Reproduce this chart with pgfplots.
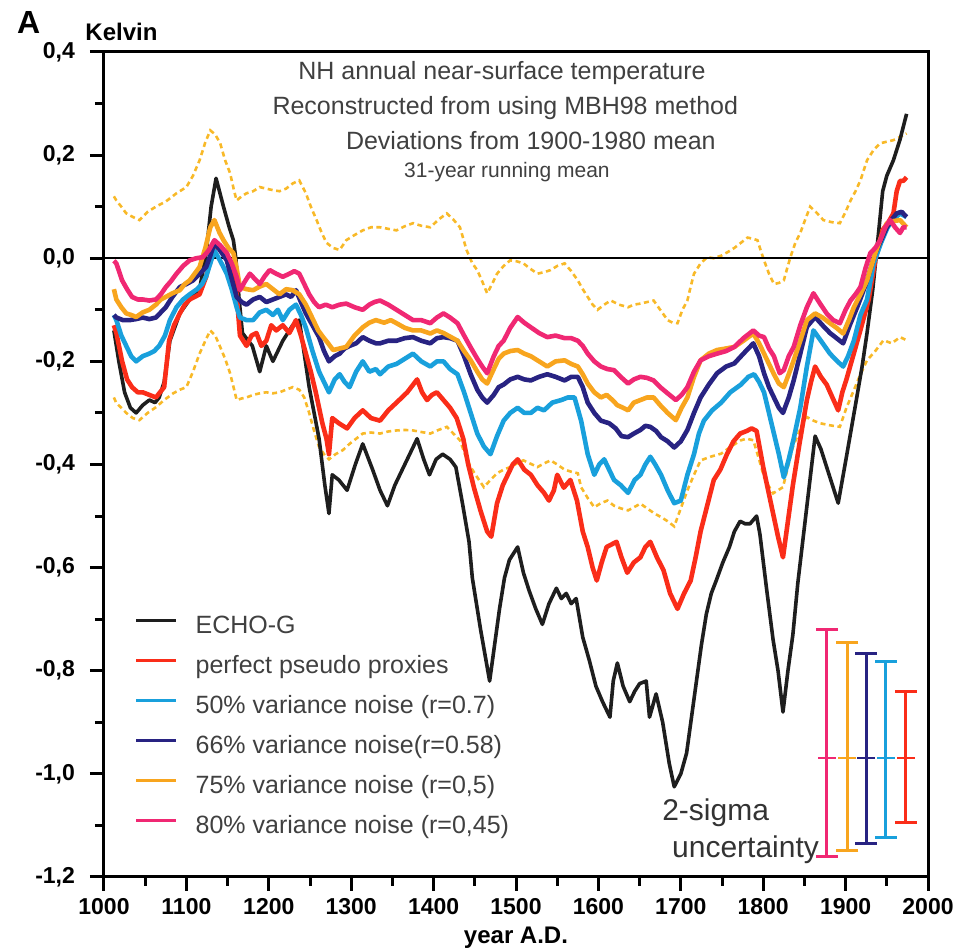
\documentclass[border=0pt]{standalone}
\usepackage{pgfplots}
\pgfplotsset{compat=1.18}
\usepackage{fontspec}
\setmainfont{Liberation Sans}

\definecolor{echo}{RGB}{30,30,30}
\definecolor{redc}{RGB}{250,45,25}
\definecolor{lblue}{RGB}{25,160,220}
\definecolor{dblue}{RGB}{40,35,130}
\definecolor{orng}{RGB}{248,165,30}
\definecolor{pinkc}{RGB}{240,40,115}
\definecolor{dotc}{RGB}{248,185,40}

\begin{document}
\begin{tikzpicture}
\useasboundingbox (-52pt,-37pt) rectangle (429pt,438.5pt);
\begin{axis}[
    scale only axis,
    width=412pt, height=412.5pt,
    xmin=1000, xmax=2000, ymin=-1.2, ymax=0.4,
    xtick={1000,1100,...,2000},
    ytick={-1.2,-1.0,...,0.4},
    minor x tick num=1, minor y tick num=1,
    tick pos=left, tick align=outside,
    major tick length=7pt, minor tick length=4.5pt,
    every tick/.style={black, line width=1.5pt},
    axis line style={line width=1.5pt},
    clip=false,
    /pgf/number format/assume math mode=true,
    ticklabel style={font=\bfseries\fontsize{11.5}{12}\selectfont},
    xticklabel style={/pgf/number format/1000 sep={}},
    yticklabel style={/pgf/number format/.cd, use comma, fixed, fixed zerofill, precision=1, /tikz/.cd, xshift=-4pt},
    legend style={draw=none, fill=none, at={(0.037,0.318)}, anchor=north west,
        inner sep=0pt, row sep=8.5pt,
        font=\fontsize{12.5}{13}\selectfont, text=black!75,
        nodes={inner sep=0pt, text height=9pt, text depth=2.5pt},
        /tikz/every odd column/.append style={column sep=9pt}},
    legend cell align=left,
    legend image code/.code={\draw[#1, line width=1.4pt] (0pt,3pt) -- (20pt,3pt);},
]
% 2-sigma range of the pseudo reconstructions (dotted)
\addplot[dotc, line width=1.3pt, dash pattern=on 2.5pt off 1.8pt, forget plot] coordinates {
(1012,0.12) (1015,0.112) (1021,0.10) (1027,0.087) (1035,0.08) (1043,0.074) (1053,0.09) (1063,0.10)
(1075,0.11) (1088,0.126) (1100,0.138) (1108,0.16) (1116,0.19) (1123,0.225) (1129,0.248) (1135,0.24)
(1141,0.223) (1147,0.19) (1153,0.165) (1158,0.13) (1161,0.112) (1167,0.12) (1173,0.126) (1181,0.13)
(1189,0.138) (1197,0.135) (1205,0.132) (1213,0.13) (1221,0.135) (1229,0.145) (1237,0.151) (1245,0.126)
(1251,0.10) (1258,0.074) (1264,0.05) (1270,0.03) (1278,0.02) (1286,0.016) (1294,0.035) (1304,0.045)
(1314,0.054) (1324,0.06) (1335,0.06) (1345,0.057) (1355,0.054) (1365,0.062) (1375,0.068) (1385,0.063)
(1396,0.06) (1406,0.075) (1416,0.087) (1424,0.075) (1432,0.06) (1440,0.016) (1447,-0.01) (1453,-0.023)
(1459,-0.045) (1465,-0.068) (1471,-0.05) (1477,-0.03) (1485,-0.015) (1493,-0.004) (1501,-0.006) (1509,-0.01)
(1517,-0.02) (1526,-0.03) (1534,-0.027) (1542,-0.023) (1550,-0.015) (1559,-0.01) (1567,-0.025) (1575,-0.043)
(1581,-0.06) (1587,-0.075) (1593,-0.09) (1599,-0.10) (1607,-0.09) (1615,-0.082) (1625,-0.09) (1636,-0.095)
(1643,-0.09) (1651,-0.088) (1659,-0.085) (1667,-0.082) (1675,-0.10) (1684,-0.12) (1690,-0.125) (1696,-0.126)
(1702,-0.10) (1708,-0.082) (1712,-0.055) (1716,-0.03) (1724,-0.01) (1732,0.002) (1740,0.0) (1749,0.005)
(1757,0.012) (1765,0.02) (1773,0.03) (1781,0.04) (1787,0.038) (1793,0.035) (1797,0.015) (1801,-0.004)
(1807,-0.03) (1813,-0.05) (1819,-0.048) (1825,-0.043) (1829,-0.02) (1833,0.002) (1839,0.03) (1845,0.049)
(1851,0.075) (1857,0.10) (1865,0.088) (1873,0.074) (1883,0.07) (1893,0.068) (1900,0.09) (1906,0.112)
(1912,0.13) (1918,0.151) (1926,0.19) (1934,0.21) (1942,0.223) (1950,0.226) (1958,0.229) (1966,0.235) (1974,0.242)};
\addplot[dotc, line width=1.3pt, dash pattern=on 2.5pt off 1.8pt, forget plot] coordinates {
(1012,-0.27) (1015,-0.281) (1021,-0.29) (1027,-0.30) (1035,-0.31) (1043,-0.314) (1053,-0.30) (1063,-0.289)
(1073,-0.275) (1084,-0.262) (1092,-0.255) (1100,-0.25) (1108,-0.22) (1116,-0.185) (1123,-0.16) (1129,-0.14)
(1135,-0.15) (1141,-0.172) (1147,-0.195) (1153,-0.223) (1158,-0.255) (1161,-0.275) (1167,-0.272) (1173,-0.27)
(1181,-0.265) (1189,-0.262) (1197,-0.26) (1205,-0.262) (1213,-0.26) (1221,-0.255) (1229,-0.25) (1237,-0.255)
(1243,-0.27) (1249,-0.30) (1255,-0.335) (1261,-0.366) (1267,-0.38) (1273,-0.39) (1281,-0.38) (1290,-0.372)
(1298,-0.36) (1306,-0.35) (1314,-0.34) (1324,-0.338) (1335,-0.34) (1345,-0.336) (1355,-0.334) (1365,-0.333)
(1375,-0.334) (1385,-0.337) (1396,-0.34) (1406,-0.333) (1416,-0.327) (1424,-0.34) (1432,-0.353) (1438,-0.38)
(1445,-0.405) (1453,-0.425) (1461,-0.444) (1469,-0.43) (1477,-0.417) (1485,-0.41) (1493,-0.405) (1501,-0.398)
(1509,-0.392) (1517,-0.398) (1526,-0.405) (1534,-0.398) (1542,-0.392) (1550,-0.40) (1559,-0.41) (1567,-0.414)
(1575,-0.417) (1579,-0.444) (1587,-0.465) (1595,-0.483) (1603,-0.475) (1611,-0.47) (1619,-0.48) (1627,-0.485)
(1636,-0.489) (1643,-0.483) (1651,-0.476) (1659,-0.485) (1668,-0.495) (1676,-0.502) (1684,-0.51) (1692,-0.52)
(1700,-0.485) (1708,-0.45) (1716,-0.42) (1724,-0.392) (1736,-0.385) (1749,-0.379) (1761,-0.365) (1773,-0.353)
(1780,-0.35) (1788,-0.353) (1795,-0.39) (1801,-0.424) (1806,-0.44) (1812,-0.456) (1818,-0.45) (1824,-0.444)
(1830,-0.405) (1836,-0.366) (1844,-0.335) (1853,-0.308) (1861,-0.315) (1869,-0.32) (1881,-0.324) (1893,-0.327)
(1901,-0.29) (1910,-0.256) (1918,-0.225) (1926,-0.198) (1936,-0.18) (1946,-0.159) (1956,-0.165) (1966,-0.153) (1974,-0.159)};
% zero line
\addplot[black, line width=1.2pt, forget plot] coordinates {(1000,0) (2000,0)};
% ECHO-G
\addplot[echo, line width=1.8pt, line join=round] coordinates {
(1012,-0.14) (1018,-0.20) (1025,-0.26) (1032,-0.29) (1039,-0.30) (1047,-0.285) (1055,-0.275) (1062,-0.28)
(1067,-0.27) (1073,-0.24) (1080,-0.16) (1092,-0.107) (1104,-0.08) (1116,-0.06) (1124,0.01) (1130,0.10)
(1136,0.155) (1145,0.10) (1152,0.06) (1157,0.035) (1160,0.00) (1164,-0.08) (1168,-0.145) (1175,-0.16)
(1180,-0.17) (1189,-0.22) (1197,-0.17) (1205,-0.20) (1217,-0.16) (1229,-0.13) (1237,-0.12) (1249,-0.25)
(1261,-0.35) (1268,-0.44) (1273,-0.495) (1277,-0.42) (1285,-0.43) (1295,-0.45) (1305,-0.40) (1314,-0.36)
(1326,-0.41) (1335,-0.45) (1344,-0.48) (1353,-0.44) (1362,-0.41) (1371,-0.38) (1380,-0.35) (1388,-0.39)
(1395,-0.42) (1403,-0.39) (1411,-0.38) (1420,-0.39) (1427,-0.405) (1435,-0.475) (1443,-0.55) (1447,-0.62)
(1457,-0.72) (1468,-0.82) (1474,-0.75) (1480,-0.68) (1486,-0.62) (1492,-0.585) (1502,-0.56) (1509,-0.61)
(1516,-0.645) (1524,-0.68) (1532,-0.71) (1540,-0.67) (1549,-0.64) (1555,-0.66) (1561,-0.65) (1567,-0.67)
(1573,-0.66) (1581,-0.735) (1589,-0.78) (1597,-0.83) (1605,-0.86) (1614,-0.89) (1618,-0.82) (1623,-0.785)
(1630,-0.83) (1638,-0.86) (1644,-0.84) (1650,-0.825) (1658,-0.82) (1662,-0.89) (1670,-0.845) (1678,-0.90)
(1686,-0.98) (1692,-1.025) (1700,-1.00) (1707,-0.96) (1713,-0.89) (1719,-0.82) (1725,-0.75) (1731,-0.69)
(1737,-0.65) (1743,-0.625) (1751,-0.59) (1759,-0.56) (1765,-0.53) (1772,-0.51) (1778,-0.515) (1784,-0.515)
(1792,-0.50) (1796,-0.535) (1804,-0.64) (1812,-0.74) (1818,-0.80) (1824,-0.88) (1830,-0.80) (1836,-0.73)
(1842,-0.63) (1849,-0.535) (1856,-0.44) (1863,-0.345) (1870,-0.37) (1877,-0.405) (1884,-0.44) (1891,-0.475)
(1896,-0.43) (1901,-0.385) (1907,-0.33) (1913,-0.275) (1920,-0.21) (1926,-0.145) (1933,-0.06) (1940,0.05)
(1945,0.13) (1950,0.16) (1958,0.19) (1966,0.23) (1974,0.28)};
\addlegendentry{ECHO-G}
% perfect pseudo proxies
\addplot[redc, line width=2.3pt, line join=round] coordinates {
(1012,-0.13) (1015,-0.145) (1022,-0.20) (1028,-0.235) (1034,-0.25) (1041,-0.26) (1047,-0.26) (1055,-0.265)
(1063,-0.27) (1068,-0.26) (1073,-0.25) (1079,-0.16) (1085,-0.13) (1092,-0.107) (1098,-0.09) (1104,-0.08)
(1110,-0.075) (1116,-0.07) (1124,-0.036) (1129,0.0) (1134,0.02) (1141,0.02) (1149,0.01) (1155,-0.03)
(1161,-0.07) (1165,-0.15) (1173,-0.17) (1179,-0.15) (1185,-0.145) (1191,-0.17) (1197,-0.16) (1203,-0.13)
(1209,-0.14) (1217,-0.13) (1225,-0.145) (1233,-0.12) (1239,-0.15) (1245,-0.185) (1251,-0.22) (1257,-0.26)
(1265,-0.32) (1270,-0.35) (1273,-0.38) (1277,-0.31) (1285,-0.32) (1295,-0.33) (1304,-0.31) (1314,-0.295)
(1324,-0.31) (1335,-0.315) (1345,-0.295) (1355,-0.28) (1368,-0.26) (1380,-0.235) (1386,-0.26) (1392,-0.275)
(1398,-0.265) (1404,-0.26) (1412,-0.275) (1420,-0.29) (1428,-0.31) (1436,-0.35) (1442,-0.40) (1449,-0.445)
(1457,-0.49) (1465,-0.53) (1470,-0.54) (1477,-0.475) (1484,-0.44) (1490,-0.42) (1496,-0.40) (1502,-0.39)
(1510,-0.41) (1518,-0.42) (1526,-0.44) (1534,-0.455) (1540,-0.47) (1546,-0.45) (1550,-0.42) (1558,-0.445)
(1566,-0.43) (1574,-0.47) (1581,-0.53) (1587,-0.56) (1593,-0.60) (1598,-0.625) (1604,-0.59) (1610,-0.56)
(1616,-0.555) (1622,-0.55) (1628,-0.58) (1635,-0.61) (1643,-0.59) (1651,-0.58) (1657,-0.56) (1663,-0.55)
(1671,-0.58) (1679,-0.605) (1687,-0.65) (1696,-0.68) (1704,-0.65) (1712,-0.625) (1718,-0.58) (1724,-0.53)
(1732,-0.48) (1740,-0.43) (1748,-0.41) (1756,-0.38) (1764,-0.355) (1772,-0.34) (1780,-0.335) (1786,-0.33)
(1792,-0.335) (1800,-0.405) (1806,-0.45) (1812,-0.495) (1818,-0.54) (1824,-0.58) (1830,-0.51) (1836,-0.44)
(1844,-0.36) (1853,-0.275) (1858,-0.24) (1863,-0.21) (1870,-0.23) (1877,-0.245) (1884,-0.27) (1891,-0.295)
(1896,-0.26) (1901,-0.235) (1909,-0.19) (1917,-0.145) (1923,-0.11) (1928,-0.08) (1936,-0.004) (1945,0.055)
(1952,0.07) (1958,0.087) (1962,0.13) (1966,0.15) (1970,0.15) (1974,0.157)};
\addlegendentry{perfect pseudo proxies}
% 50% variance noise
\addplot[lblue, line width=2.3pt, line join=round] coordinates {
(1012,-0.11) (1015,-0.12) (1021,-0.15) (1027,-0.17) (1033,-0.19) (1039,-0.20) (1047,-0.19) (1055,-0.185)
(1061,-0.18) (1067,-0.17) (1074,-0.15) (1080,-0.12) (1088,-0.095) (1096,-0.08) (1104,-0.07) (1113,-0.06)
(1119,-0.05) (1124,-0.035) (1129,-0.01) (1134,0.015) (1141,-0.005) (1149,-0.03) (1155,-0.06) (1161,-0.095)
(1165,-0.115) (1173,-0.12) (1181,-0.12) (1189,-0.105) (1197,-0.10) (1205,-0.11) (1211,-0.10) (1217,-0.12)
(1225,-0.10) (1233,-0.09) (1239,-0.11) (1245,-0.135) (1253,-0.18) (1261,-0.22) (1267,-0.24) (1273,-0.26)
(1280,-0.235) (1286,-0.225) (1292,-0.24) (1298,-0.25) (1306,-0.22) (1314,-0.20) (1322,-0.22) (1330,-0.215)
(1335,-0.225) (1345,-0.21) (1355,-0.205) (1365,-0.195) (1375,-0.185) (1385,-0.20) (1396,-0.21) (1404,-0.20)
(1412,-0.20) (1420,-0.215) (1429,-0.225) (1437,-0.26) (1445,-0.30) (1453,-0.34) (1461,-0.365) (1469,-0.38)
(1477,-0.345) (1485,-0.315) (1493,-0.30) (1502,-0.29) (1510,-0.30) (1518,-0.30) (1526,-0.29) (1534,-0.295)
(1544,-0.28) (1555,-0.275) (1563,-0.27) (1571,-0.27) (1579,-0.315) (1587,-0.38) (1595,-0.42) (1601,-0.40)
(1607,-0.39) (1613,-0.41) (1619,-0.43) (1627,-0.44) (1636,-0.455) (1644,-0.43) (1651,-0.42) (1657,-0.40)
(1663,-0.385) (1669,-0.40) (1676,-0.42) (1684,-0.45) (1692,-0.475) (1700,-0.47) (1708,-0.42) (1716,-0.38)
(1722,-0.34) (1728,-0.315) (1738,-0.295) (1749,-0.28) (1760,-0.26) (1773,-0.245) (1782,-0.23) (1789,-0.225)
(1795,-0.24) (1801,-0.26) (1807,-0.30) (1813,-0.34) (1819,-0.38) (1825,-0.425) (1831,-0.39) (1837,-0.35)
(1845,-0.29) (1853,-0.21) (1861,-0.14) (1870,-0.16) (1881,-0.185) (1890,-0.20) (1897,-0.21) (1903,-0.19)
(1910,-0.16) (1918,-0.11) (1926,-0.08) (1934,-0.01) (1943,0.03) (1951,0.06) (1958,0.075) (1966,0.087) (1974,0.08)};
\addlegendentry{50\% variance noise (r=0.7)}
% 66% variance noise
\addplot[dblue, line width=2.3pt, line join=round] coordinates {
(1012,-0.11) (1015,-0.115) (1023,-0.12) (1031,-0.12) (1039,-0.118) (1047,-0.115) (1055,-0.118) (1063,-0.115)
(1069,-0.105) (1075,-0.095) (1083,-0.075) (1092,-0.056) (1100,-0.05) (1108,-0.043) (1116,-0.03) (1124,-0.017)
(1129,0.005) (1134,0.03) (1141,0.015) (1149,-0.004) (1155,-0.04) (1161,-0.075) (1167,-0.085) (1173,-0.09)
(1181,-0.08) (1189,-0.075) (1197,-0.085) (1205,-0.08) (1213,-0.075) (1221,-0.07) (1227,-0.075) (1233,-0.062)
(1239,-0.085) (1245,-0.107) (1253,-0.13) (1261,-0.153) (1267,-0.18) (1273,-0.20) (1280,-0.19) (1286,-0.185)
(1292,-0.175) (1298,-0.17) (1306,-0.165) (1314,-0.153) (1322,-0.16) (1330,-0.165) (1335,-0.165) (1345,-0.16)
(1355,-0.16) (1365,-0.155) (1375,-0.153) (1385,-0.16) (1396,-0.165) (1404,-0.155) (1412,-0.153) (1420,-0.155)
(1429,-0.16) (1437,-0.19) (1445,-0.225) (1453,-0.255) (1459,-0.27) (1465,-0.28) (1473,-0.265) (1479,-0.25)
(1485,-0.245) (1493,-0.235) (1502,-0.23) (1510,-0.235) (1518,-0.237) (1528,-0.23) (1538,-0.225) (1548,-0.23)
(1559,-0.237) (1567,-0.23) (1575,-0.23) (1581,-0.25) (1587,-0.28) (1595,-0.30) (1603,-0.315) (1613,-0.32)
(1621,-0.33) (1628,-0.345) (1636,-0.347) (1643,-0.34) (1651,-0.333) (1657,-0.325) (1663,-0.327) (1670,-0.335)
(1676,-0.347) (1684,-0.355) (1692,-0.367) (1700,-0.355) (1708,-0.333) (1716,-0.30) (1724,-0.27) (1734,-0.245)
(1744,-0.223) (1755,-0.21) (1765,-0.204) (1776,-0.185) (1788,-0.165) (1795,-0.19) (1801,-0.223) (1807,-0.25)
(1813,-0.27) (1819,-0.29) (1824,-0.30) (1831,-0.27) (1837,-0.237) (1845,-0.185) (1853,-0.133) (1863,-0.114)
(1872,-0.13) (1881,-0.145) (1889,-0.155) (1897,-0.165) (1905,-0.13) (1914,-0.095) (1920,-0.07) (1926,-0.043)
(1936,0.01) (1943,0.035) (1950,0.06) (1956,0.075) (1962,0.087) (1968,0.09) (1974,0.08)};
\addlegendentry{66\% variance noise(r=0.58)}
% 75% variance noise
\addplot[orng, line width=2.3pt, line join=round] coordinates {
(1012,-0.06) (1015,-0.08) (1021,-0.095) (1027,-0.107) (1033,-0.11) (1039,-0.114) (1047,-0.105) (1055,-0.10)
(1063,-0.09) (1069,-0.08) (1075,-0.075) (1083,-0.068) (1092,-0.062) (1098,-0.05) (1104,-0.043) (1110,-0.03)
(1116,-0.017) (1123,0.02) (1129,0.06) (1134,0.074) (1140,0.05) (1145,0.035) (1151,0.02) (1157,0.01)
(1161,-0.02) (1165,-0.056) (1173,-0.06) (1181,-0.062) (1189,-0.055) (1197,-0.05) (1205,-0.06) (1213,-0.07)
(1221,-0.06) (1229,-0.062) (1237,-0.07) (1245,-0.09) (1254,-0.12) (1260,-0.14) (1266,-0.153) (1272,-0.165)
(1278,-0.178) (1286,-0.175) (1294,-0.172) (1304,-0.15) (1314,-0.134) (1322,-0.125) (1330,-0.12) (1340,-0.125)
(1348,-0.12) (1355,-0.126) (1365,-0.135) (1375,-0.14) (1385,-0.14) (1396,-0.146) (1404,-0.14) (1412,-0.145)
(1420,-0.152) (1429,-0.16) (1437,-0.18) (1445,-0.198) (1453,-0.22) (1459,-0.235) (1465,-0.243) (1473,-0.215)
(1479,-0.195) (1485,-0.185) (1493,-0.18) (1502,-0.178) (1510,-0.185) (1518,-0.19) (1528,-0.20) (1538,-0.21)
(1548,-0.20) (1559,-0.198) (1567,-0.205) (1575,-0.21) (1581,-0.225) (1587,-0.243) (1595,-0.26) (1603,-0.27)
(1610,-0.265) (1617,-0.275) (1623,-0.285) (1630,-0.29) (1636,-0.295) (1643,-0.28) (1651,-0.275) (1659,-0.27)
(1667,-0.27) (1675,-0.285) (1684,-0.30) (1694,-0.314) (1701,-0.29) (1708,-0.27) (1716,-0.23) (1724,-0.198)
(1734,-0.185) (1744,-0.178) (1755,-0.175) (1765,-0.172) (1776,-0.16) (1788,-0.146) (1795,-0.165) (1801,-0.185)
(1807,-0.205) (1813,-0.225) (1819,-0.243) (1825,-0.25) (1831,-0.225) (1837,-0.198) (1845,-0.16) (1853,-0.12)
(1863,-0.107) (1872,-0.115) (1881,-0.126) (1889,-0.135) (1897,-0.146) (1904,-0.12) (1910,-0.095) (1918,-0.07)
(1926,-0.043) (1936,0.01) (1943,0.04) (1950,0.068) (1958,0.072) (1966,0.074) (1974,0.06)};
\addlegendentry{75\% variance noise (r=0,5)}
% 80% variance noise
\addplot[pinkc, line width=2.3pt, line join=round] coordinates {
(1012,-0.005) (1015,-0.01) (1022,-0.043) (1028,-0.06) (1034,-0.075) (1041,-0.08) (1047,-0.08) (1055,-0.082)
(1063,-0.08) (1069,-0.07) (1075,-0.056) (1081,-0.045) (1088,-0.03) (1096,-0.015) (1104,-0.004) (1112,0.0)
(1120,0.002) (1127,0.015) (1134,0.035) (1141,0.025) (1149,0.01) (1155,-0.01) (1161,-0.036) (1165,-0.062)
(1171,-0.045) (1177,-0.03) (1183,-0.04) (1189,-0.05) (1195,-0.035) (1201,-0.023) (1209,-0.03) (1217,-0.036)
(1225,-0.03) (1231,-0.025) (1237,-0.03) (1243,-0.05) (1249,-0.07) (1255,-0.085) (1261,-0.095) (1269,-0.09)
(1277,-0.095) (1286,-0.09) (1294,-0.088) (1304,-0.095) (1314,-0.10) (1322,-0.09) (1328,-0.085) (1335,-0.082)
(1345,-0.09) (1355,-0.10) (1365,-0.11) (1375,-0.12) (1385,-0.12) (1396,-0.126) (1404,-0.115) (1412,-0.107)
(1420,-0.115) (1429,-0.126) (1437,-0.15) (1445,-0.173) (1453,-0.195) (1459,-0.21) (1465,-0.223) (1473,-0.19)
(1479,-0.17) (1485,-0.16) (1493,-0.135) (1502,-0.114) (1510,-0.125) (1518,-0.134) (1528,-0.145) (1538,-0.153)
(1548,-0.15) (1559,-0.155) (1567,-0.155) (1575,-0.16) (1581,-0.17) (1587,-0.185) (1595,-0.20) (1603,-0.21)
(1611,-0.215) (1619,-0.217) (1627,-0.23) (1636,-0.243) (1643,-0.235) (1651,-0.23) (1659,-0.232) (1667,-0.237)
(1675,-0.25) (1684,-0.262) (1694,-0.275) (1701,-0.265) (1708,-0.25) (1716,-0.22) (1724,-0.198) (1734,-0.19)
(1744,-0.185) (1755,-0.18) (1765,-0.172) (1776,-0.155) (1788,-0.14) (1795,-0.15) (1801,-0.153) (1807,-0.175)
(1813,-0.19) (1820,-0.223) (1825,-0.217) (1831,-0.19) (1837,-0.172) (1845,-0.13) (1853,-0.095) (1861,-0.068)
(1869,-0.088) (1877,-0.107) (1885,-0.12) (1893,-0.126) (1900,-0.10) (1906,-0.082) (1912,-0.07) (1918,-0.056)
(1924,-0.02) (1930,0.01) (1936,0.02) (1942,0.035) (1948,0.06) (1954,0.074) (1960,0.06) (1966,0.049) (1970,0.06) (1974,0.06)};
\addlegendentry{80\% variance noise (r=0,45)}
% 2-sigma uncertainty bars: ends with caps, centre tick at -0.97
\addplot[pinkc, line width=1.5pt, mark=-, mark size=5.5pt, mark options={line width=1.5pt}, forget plot]
  coordinates {(1877,-0.72) (1877,-1.16)};
\addplot[orng, line width=1.5pt, mark=-, mark size=5.5pt, mark options={line width=1.5pt}, forget plot]
  coordinates {(1902,-0.745) (1902,-1.148)};
\addplot[dblue, line width=1.5pt, mark=-, mark size=5.5pt, mark options={line width=1.5pt}, forget plot]
  coordinates {(1925,-0.766) (1925,-1.135)};
\addplot[lblue, line width=1.5pt, mark=-, mark size=5.5pt, mark options={line width=1.5pt}, forget plot]
  coordinates {(1949,-0.783) (1949,-1.123)};
\addplot[redc, line width=1.5pt, mark=-, mark size=5.5pt, mark options={line width=1.5pt}, forget plot]
  coordinates {(1973,-0.84) (1973,-1.094)};
\addplot[pinkc, only marks, mark=-, mark size=4.5pt, mark options={line width=1pt}, forget plot] coordinates {(1877,-0.97)};
\addplot[orng, only marks, mark=-, mark size=4.5pt, mark options={line width=1pt}, forget plot] coordinates {(1902,-0.97)};
\addplot[dblue, only marks, mark=-, mark size=4.5pt, mark options={line width=1pt}, forget plot] coordinates {(1925,-0.97)};
\addplot[lblue, only marks, mark=-, mark size=4.5pt, mark options={line width=1pt}, forget plot] coordinates {(1949,-0.97)};
\addplot[redc, only marks, mark=-, mark size=4.5pt, mark options={line width=1pt}, forget plot] coordinates {(1973,-0.97)};

% texts
\node[text=black!75, font=\fontsize{12.5}{13}\selectfont] at (axis cs:1483,0.359) {NH annual near-surface temperature};
\node[text=black!75, font=\fontsize{12.5}{13}\selectfont] at (axis cs:1487,0.291) {Reconstructed from using MBH98 method};
\node[text=black!75, font=\fontsize{12.5}{13}\selectfont] at (axis cs:1518,0.229) {Deviations from 1900-1980 mean};
\node[text=black!75, font=\fontsize{10.5}{11}\selectfont] at (axis cs:1489,0.167) {31-year running mean};
\node[anchor=west, inner sep=0pt, text=black!80, font=\fontsize{15}{16}\selectfont] at (axis cs:1677,-1.076) {2-sigma};
\node[anchor=west, inner sep=0pt, text=black!80, font=\fontsize{15}{16}\selectfont] at (axis cs:1689,-1.148) {uncertainty};
\node[anchor=west, inner sep=0pt, font=\bfseries\fontsize{16}{17}\selectfont] at (axis cs:894,0.458) {A};
\node[anchor=west, inner sep=0pt, font=\bfseries\fontsize{12}{13}\selectfont] at (axis cs:977,0.438) {Kelvin};
\node[font=\bfseries\fontsize{12}{13}\selectfont] at (axis cs:1500,-1.317) {year A.D.};
\end{axis}
\end{tikzpicture}
\end{document}
